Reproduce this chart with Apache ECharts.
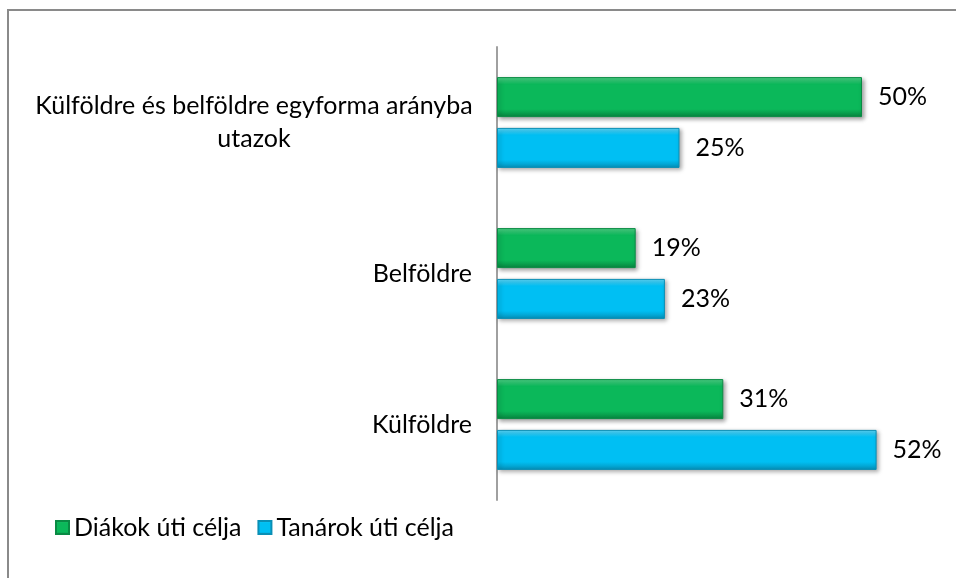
<!DOCTYPE html>
<html>
<head>
<meta charset="utf-8">
<script src="https://cdn.jsdelivr.net/npm/echarts@6/dist/echarts.min.js"></script>
<style>html,body{margin:0;padding:0;background:#fff}#c{width:956px;height:578px}</style>
</head>
<body>
<div id="c"></div>
<script>
const categories = ['Külföldre', 'Belföldre', 'Külföldre és belföldre egyforma arányba utazok'];
const seriesNames = ['Diákok úti célja', 'Tanárok úti célja'];
const diakok = [31, 19, 50];
const tanarok = [52, 23, 25];

const FONT = 'Lato';
function grad(light, main, dark) {
  return new echarts.graphic.LinearGradient(0, 0, 0, 1, [
    {offset: 0, color: light}, {offset: 0.18, color: main},
    {offset: 0.8, color: main}, {offset: 1, color: dark}
  ]);
}
const greenFill = grad('#4fd488', '#0bb85a', '#07843f');
const blueFill = grad('#5fd8fa', '#00bff3', '#0590b8');

const chart = echarts.init(document.getElementById('c'));
chart.setOption({
  animation: false,
  backgroundColor: '#fff',
  textStyle: {fontFamily: FONT},
  graphic: [{
    type: 'rect', shape: {x: 8, y: 10, width: 1100, height: 1100},
    style: {fill: 'none', stroke: '#8a8a8a', lineWidth: 2}, silent: true
  }],
  legend: {
    data: seriesNames, left: 50, top: 510, itemWidth: 13, itemHeight: 13, itemGap: 16,
    icon: 'rect',
    textStyle: {fontFamily: FONT, fontSize: 25, color: '#000'}
  },
  grid: {left: 497, right: 21, top: 47, bottom: 78, containLabel: false},
  xAxis: {type: 'value', min: 0, max: 60, show: false},
  yAxis: {
    type: 'category', data: categories,
    axisLine: {lineStyle: {color: '#a0a0a0', width: 2}},
    axisTick: {show: false},
    axisLabel: {
      fontFamily: FONT, fontSize: 25, color: '#000', margin: 25, lineHeight: 33,
      formatter: function (v) {
        if (v.length > 30) {
          const i = v.lastIndexOf(' ');
          return '{c|' + v.slice(0, i) + '}\n{c|' + v.slice(i + 1) + '}';
        }
        return v;
      },
      rich: {c: {width: 436, align: 'center', fontSize: 25, fontFamily: FONT, lineHeight: 33}}
    }
  },
  series: [
    {
      name: seriesNames[0], type: 'bar', data: diakok, barWidth: 40, barGap: '27%',
      itemStyle: {color: greenFill, borderColor: '#0a8a44', borderWidth: 1,
        shadowColor: 'rgba(0,0,0,0.35)', shadowBlur: 4, shadowOffsetX: 2, shadowOffsetY: 2},
      label: {show: true, position: 'right', distance: 16, formatter: '{c}%',
        fontFamily: FONT, fontSize: 25, color: '#000'}
    },
    {
      name: seriesNames[1], type: 'bar', data: tanarok, barWidth: 40, barGap: '27%',
      itemStyle: {color: blueFill, borderColor: '#0a8fb5', borderWidth: 1,
        shadowColor: 'rgba(0,0,0,0.35)', shadowBlur: 4, shadowOffsetX: 2, shadowOffsetY: 2},
      label: {show: true, position: 'right', distance: 16, formatter: '{c}%',
        fontFamily: FONT, fontSize: 25, color: '#000'}
    }
  ]
});
</script>
</body>
</html>
